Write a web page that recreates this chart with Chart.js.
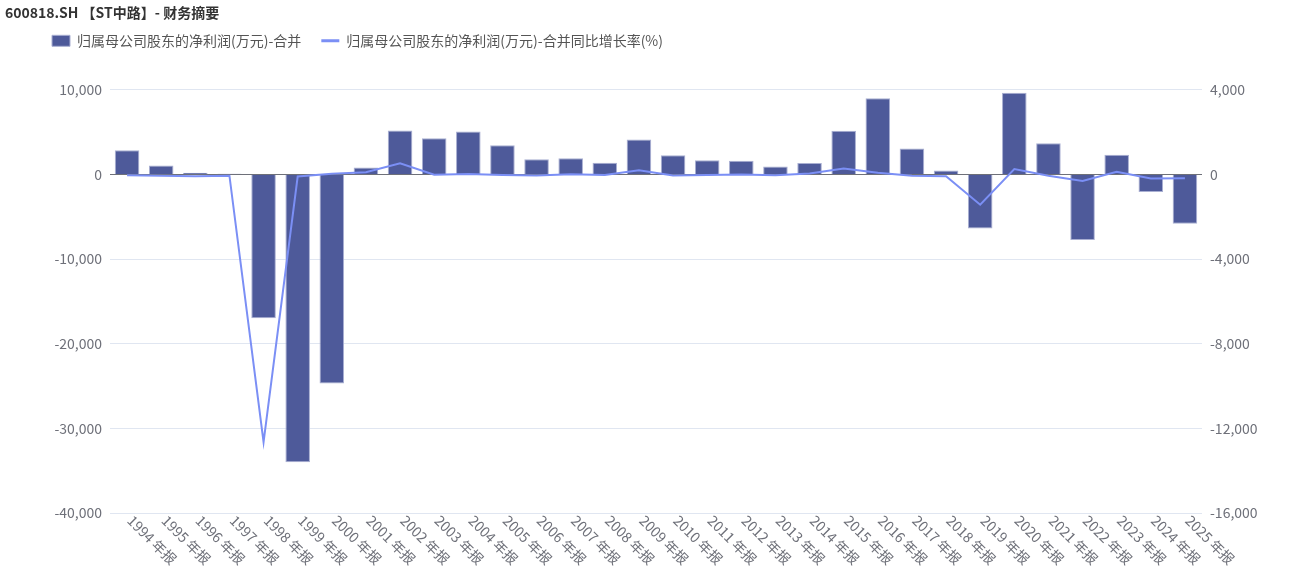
<!DOCTYPE html>
<html>
<head>
<meta charset="utf-8">
<title>600818.SH 财务摘要</title>
<script src="https://cdn.jsdelivr.net/npm/chart.js@4.4.1/dist/chart.umd.min.js"></script>
<style>
    html, body { margin: 0; padding: 0; background: #fff; }
    #wrap { width: 1303px; height: 577px; }
</style>
</head>
<body>
<div id="wrap"><canvas id="profitChart"></canvas></div>
<script>
// data
const years = ['1994 年报', '1995 年报', '1996 年报', '1997 年报', '1998 年报', '1999 年报', '2000 年报', '2001 年报',
    '2002 年报', '2003 年报', '2004 年报', '2005 年报', '2006 年报', '2007 年报', '2008 年报', '2009 年报',
    '2010 年报', '2011 年报', '2012 年报', '2013 年报', '2014 年报', '2015 年报', '2016 年报', '2017 年报',
    '2018 年报', '2019 年报', '2020 年报', '2021 年报', '2022 年报', '2023 年报', '2024 年报', '2025 年报'];
const netProfit = [2850, 1070, 200, 80, -17000, -34000, -24700, 830,
    5200, 4290, 5080, 3450, 1790, 1900, 1390, 4130,
    2260, 1670, 1630, 950, 1350, 5160, 9010, 3060,
    480, -6390, 9640, 3690, -7740, 2340, -2060, -5830];
const profitGrowth = [-40, -62, -81, -60, -12650, -100, 27, 103,
    526, -17, 18, -32, -48, 6, -27, 197,
    -45, -26, -2, -42, 42, 282, 75, -66,
    -84, -1430, 251, -62, -310, 130, -188, -183];
const leftTicks = [-40000, -30000, -20000, -10000, 0, 10000];
const rightTicks = [-16000, -12000, -8000, -4000, 0, 4000];

const labelColor = '#6e7079';
const fontFamily = '"Noto Sans CJK SC", "Noto Sans", sans-serif';
Chart.defaults.font.family = fontFamily;

// x labels go down-right from the tick, which chart.js can't do by itself
const rotatedLabels = {
    id: 'rotatedLabels',
    afterDraw(chart) {
        const xs = chart.scales.x;
        const ctx = chart.ctx;
        ctx.save();
        ctx.font = '14px ' + fontFamily;
        ctx.fillStyle = labelColor;
        ctx.textAlign = 'left';
        ctx.textBaseline = 'middle';
        years.forEach((lab, i) => {
            ctx.save();
            ctx.translate(xs.getPixelForTick(i) + 3, chart.chartArea.bottom + 5);
            ctx.rotate(Math.PI / 4);
            ctx.fillText(lab, 0, 0);
            ctx.restore();
        });
        ctx.restore();
    }
};

// move the legend row closer to the title and in from the left edge
const legendShift = {
    id: 'legendShift',
    afterLayout(chart) {
        const lg = chart.legend;
        lg.left += 27; lg.right += 27;
        lg.top -= 32; lg.bottom -= 32;
    }
};

const ctx = document.getElementById('profitChart').getContext('2d');
const profitChart = new Chart(ctx, {
    data: {
        labels: years,
        datasets: [{
            type: 'line',
            label: '归属母公司股东的净利润(万元)-合并同比增长率(%)',
            data: profitGrowth,
            yAxisID: 'y1',
            borderColor: '#7b8ff5',
            backgroundColor: '#7b8ff5',
            borderWidth: 2,
            pointRadius: 0,
            pointBorderWidth: 3,
            pointStyle: 'line',
            tension: 0,
            order: 0
        }, {
            type: 'bar',
            label: '归属母公司股东的净利润(万元)-合并',
            data: netProfit,
            yAxisID: 'y',
            backgroundColor: '#4e5a9a',
            borderColor: '#a9afd2',
            borderWidth: 1,
            pointStyle: 'rect',
            order: 1
        }]
    },
    options: {
        responsive: true,
        maintainAspectRatio: false,
        animation: false,
        layout: { padding: { left: 5, right: 0, top: 0, bottom: 0 } },
        plugins: {
            title: {
                display: true,
                text: '600818.SH 【ST中路】- 财务摘要',
                align: 'start',
                color: '#333',
                font: { size: 14, weight: 'bold' },
                padding: { top: 4, bottom: 25 }
            },
            legend: {
                position: 'top',
                align: 'start',
                reverse: true,
                labels: {
                    usePointStyle: true,
                    pointStyleWidth: 18,
                    boxHeight: 11,
                    padding: 20,
                    color: '#555',
                    font: { size: 14 }
                }
            },
            tooltip: { enabled: false }
        },
        scales: {
            x: {
                type: 'category',
                offset: true,
                grid: { display: false },
                border: { display: false },
                ticks: { display: false },
                afterFit(scale) { scale.height = 64; }
            },
            y: {
                position: 'left',
                min: leftTicks[0],
                max: leftTicks[leftTicks.length - 1],
                afterBuildTicks(scale) { scale.ticks = leftTicks.map(v => ({ value: v })); },
                ticks: { color: labelColor, padding: 8, font: { size: 14 } },
                grid: {
                    drawTicks: false,
                    color: c => (c.tick && c.tick.value === 0) ? '#6e7079' : '#e0e6f1'
                },
                border: { display: false },
                afterFit(scale) { scale.width = 105; }
            },
            y1: {
                position: 'right',
                min: rightTicks[0],
                max: rightTicks[rightTicks.length - 1],
                afterBuildTicks(scale) { scale.ticks = rightTicks.map(v => ({ value: v })); },
                ticks: { color: labelColor, padding: 8, font: { size: 14 } },
                grid: { display: false, drawTicks: false },
                border: { display: false },
                afterFit(scale) { scale.width = 101; }
            }
        }
    },
    plugins: [rotatedLabels, legendShift]
});
</script>
</body>
</html>
